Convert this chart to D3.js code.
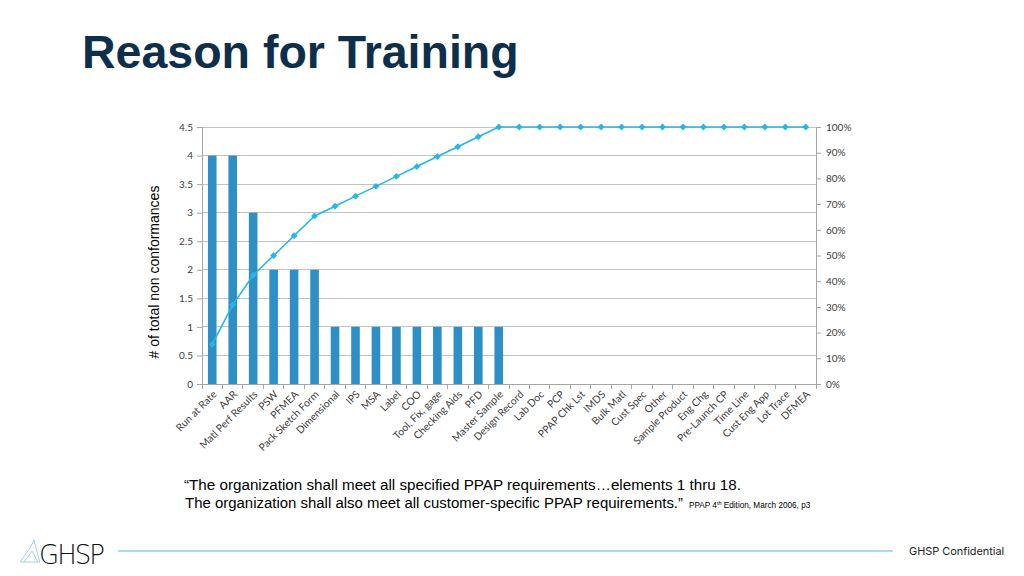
<!DOCTYPE html>
<html>
<head>
<meta charset="utf-8">
<script src="https://cdn.jsdelivr.net/npm/d3@7"></script>
<style>
html,body{margin:0;padding:0;background:#fff;}
svg{display:block;}
</style>
</head>
<body>
<svg id="chart" width="1024" height="576"></svg>
<script>
const categories = ["Run at Rate","AAR","Matl Perf Results","PSW","PFMEA","Pack Sketch Form","Dimensional","IPS","MSA","Label","COO","Tool, Fix, gage","Checking Aids","PFD","Master Sample","Design Record","Lab Doc","PCP","PPAP Chk Lst","IMDS","Bulk Matl","Cust Spec","Other","Sample Product","Eng Chg","Pre-Launch CP","Time Line","Cust Eng App","Lot Trace","DFMEA"];
const counts = [4,4,3,2,2,2,1,1,1,1,1,1,1,1,1,0,0,0,0,0,0,0,0,0,0,0,0,0,0,0];
const cumulativePct = [15.4,30.8,42.3,50.0,57.7,65.4,69.2,73.1,76.9,80.8,84.6,88.5,92.3,96.2,100,100,100,100,100,100,100,100,100,100,100,100,100,100,100,100];
const leftTicks = [0,0.5,1,1.5,2,2.5,3,3.5,4,4.5];
const rightTicks = [0,10,20,30,40,50,60,70,80,90,100];

const svg = d3.select("#chart");
const X0 = 202, X1 = 816, Y0 = 127, Y1 = 384;

const x = d3.scaleBand().domain(categories).range([X0, X1]).paddingInner(0.58).paddingOuter(0.29);
const y = d3.scaleLinear().domain([0, 4.5]).range([Y1, Y0]);
const yr = d3.scaleLinear().domain([0, 100]).range([Y1, Y0]);
const step = x.step();

// Title
svg.append("text").attr("x", 82).attr("y", 68)
  .attr("font-family", "Liberation Sans, Arial, sans-serif").attr("font-weight", "bold")
  .attr("font-size", 46.5).attr("fill", "#0d2f4b").text("Reason for Training");

// Gridlines
svg.append("g").selectAll("line").data(leftTicks.filter(d => d > 0)).join("line")
  .attr("x1", X0).attr("x2", X1).attr("y1", d => y(d)).attr("y2", d => y(d))
  .attr("stroke", "#c3c3c3").attr("stroke-width", 1).attr("shape-rendering", "crispEdges");

// Left axis
const leftAxis = d3.axisLeft(y).tickValues(leftTicks).tickFormat(d => d).tickSize(5).tickPadding(4);
const gL = svg.append("g").attr("transform", `translate(${X0},0)`).call(leftAxis);
gL.select(".domain").attr("stroke", "#a6a6a6");
gL.selectAll(".tick line").attr("stroke", "#a6a6a6");
gL.selectAll(".tick text").attr("font-family", "Lato, Carlito, sans-serif").attr("font-size", 10).attr("fill", "#404040");

// Right axis
const rightAxis = d3.axisRight(yr).tickValues(rightTicks).tickFormat(d => d + "%").tickSize(5).tickPadding(5);
const gR = svg.append("g").attr("transform", `translate(${X1},0)`).call(rightAxis);
gR.select(".domain").attr("stroke", "#a6a6a6");
gR.selectAll(".tick line").attr("stroke", "#a6a6a6");
gR.selectAll(".tick text").attr("font-family", "Lato, Carlito, sans-serif").attr("font-size", 10).attr("fill", "#404040");

// Bottom axis line + boundary ticks
svg.append("line").attr("x1", X0).attr("x2", X1).attr("y1", Y1).attr("y2", Y1)
  .attr("stroke", "#a6a6a6").attr("shape-rendering", "crispEdges");
svg.append("g").selectAll("line").data(d3.range(categories.length + 1)).join("line")
  .attr("x1", i => X0 + i * step).attr("x2", i => X0 + i * step)
  .attr("y1", Y1).attr("y2", Y1 + 5).attr("stroke", "#a6a6a6").attr("shape-rendering", "crispEdges");

// Bars
svg.append("g").selectAll("rect").data(categories).join("rect")
  .attr("x", (d) => x(d)).attr("width", x.bandwidth())
  .attr("y", (d, i) => y(counts[i])).attr("height", (d, i) => Y1 - y(counts[i]))
  .attr("fill", "#2e8ec6");

// X labels
svg.append("g").selectAll("text").data(categories).join("text")
  .attr("transform", d => `translate(${x(d) + x.bandwidth() / 2 + 5},${Y1 + 11}) rotate(-45)`)
  .attr("text-anchor", "end")
  .attr("font-family", "Lato, Carlito, sans-serif").attr("font-size", 10.3).attr("fill", "#404040")
  .text(d => d);

// Cumulative line
const cx = d => x(d) + x.bandwidth() / 2;
const line = d3.line().x((d, i) => cx(categories[i])).y(d => yr(d));
svg.append("path").datum(cumulativePct).attr("d", line)
  .attr("fill", "none").attr("stroke", "#27b6e8").attr("stroke-width", 1.6);
svg.append("g").selectAll("path").data(cumulativePct).join("path")
  .attr("d", d3.symbol().type(d3.symbolDiamond2).size(30))
  .attr("transform", (d, i) => `translate(${cx(categories[i])},${yr(d)})`)
  .attr("fill", "#27b6e8");

// Y axis title
svg.append("text").attr("transform", "translate(159,272) rotate(-90)")
  .attr("text-anchor", "middle").attr("font-family", "Liberation Sans, Arial, sans-serif")
  .attr("font-size", 14).attr("fill", "#000").text("# of total non conformances");

// Quote
const q = svg.append("g").attr("font-family", "Liberation Sans, Arial, sans-serif").attr("fill", "#000");
q.append("text").attr("x", 184).attr("y", 490).attr("font-size", 14)
  .attr("textLength", 557).attr("lengthAdjust", "spacingAndGlyphs")
  .text("\u201CThe organization shall meet all specified PPAP requirements\u2026elements 1 thru 18.");
q.append("text").attr("x", 185).attr("y", 508).attr("font-size", 14)
  .attr("textLength", 498).attr("lengthAdjust", "spacingAndGlyphs")
  .text("The organization shall also meet all customer-specific PPAP requirements.\u201D");
const src = q.append("text").attr("x", 689).attr("y", 508).attr("font-size", 8.2);
src.append("tspan").text("PPAP 4");
src.append("tspan").attr("font-size", 5.5).attr("dy", -3).text("th");
src.append("tspan").attr("dy", 3).text(" Edition, March 2006, p3");

// Footer
svg.append("line").attr("x1", 118).attr("x2", 893).attr("y1", 551).attr("y2", 551)
  .attr("stroke", "#4fbbe2").attr("stroke-width", 1.2);
svg.append("text").attr("x", 909).attr("y", 555).attr("font-family", "Inter, Open Sans, sans-serif")
  .attr("font-size", 10.9).attr("fill", "#222").text("GHSP Confidential");
// Logo
const logo = svg.append("g");
logo.append("path").attr("d", "M20,562 L30,548 L34,540 L36,548 L40,562 Z M24,562 L32,551 L38,562")
  .attr("fill", "none").attr("stroke", "#9fd3ea").attr("stroke-width", 1);
logo.append("text").attr("x", 39).attr("y", 564).attr("font-family", "DejaVu Sans, sans-serif")
  .attr("font-weight", 200).attr("font-size", 26).attr("letter-spacing", -2).attr("fill", "#111").text("GHSP");
</script>
</body>
</html>
